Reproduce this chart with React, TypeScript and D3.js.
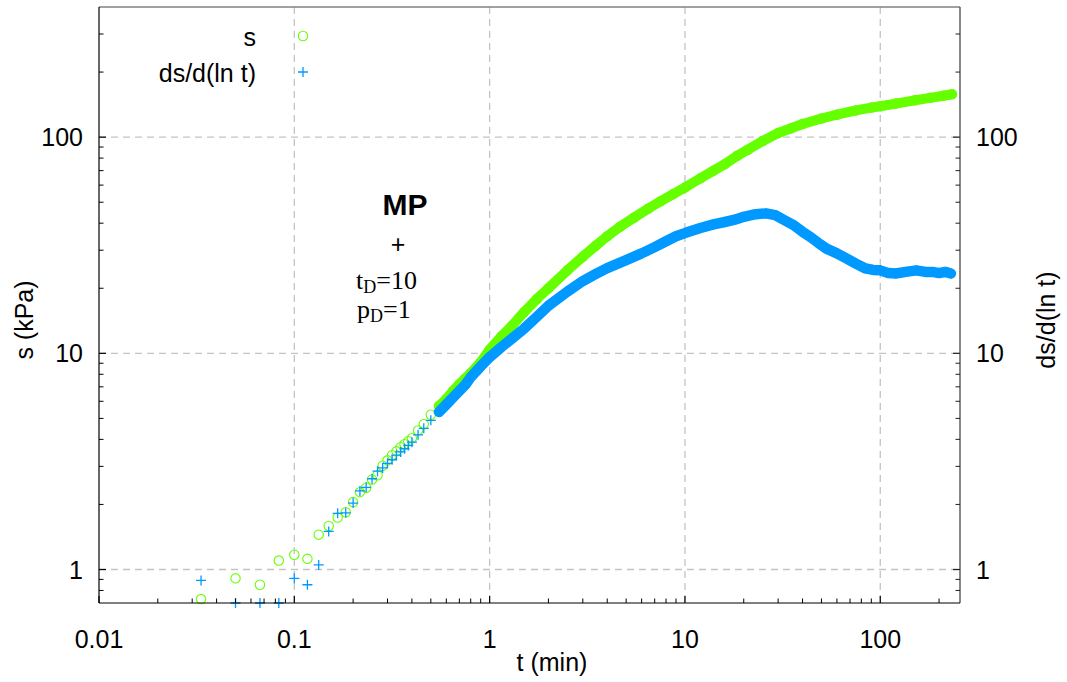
import React from "react";
import * as d3 from "d3";

// ---- data (t in minutes) ----
const sT = [0.0333, 0.05, 0.0667, 0.0833, 0.1, 0.1167, 0.1333, 0.15, 0.1667, 0.1833, 0.2, 0.2167, 0.2333, 0.25, 0.2667, 0.2833, 0.3, 0.3167, 0.3333, 0.35, 0.3667, 0.3833, 0.4,
  0.43, 0.46, 0.5, 0.55, 0.6, 0.65, 0.7, 0.75, 0.8, 0.9, 1.0, 1.15, 1.3, 1.5, 1.75, 2.0, 2.5, 3.0, 3.5, 4.0, 4.65, 5.5, 6.5, 7.5, 8.7, 10, 12, 14, 16, 18.5, 21, 25, 30, 35, 40, 50, 60, 75, 90, 100, 120, 150, 180, 210, 233];
const sV = [0.73, 0.91, 0.85, 1.10, 1.17, 1.12, 1.45, 1.59, 1.74, 1.84, 2.05, 2.28, 2.39, 2.61, 2.73, 3.02, 3.2, 3.38, 3.52, 3.68, 3.8, 3.92, 4.05,
  4.4, 4.7, 5.2, 5.7, 6.15, 6.7, 7.2, 7.65, 8.1, 9.1, 10.4, 12.0, 13.4, 15.5, 17.9, 20.0, 24.2, 28.0, 31.5, 34.8, 38.5, 42.5, 46.8, 50.5, 54.5, 58.5, 64.5, 70, 75, 82, 87.5, 96, 104.5, 110, 115, 122, 127, 133, 137, 139, 143, 148, 152, 155.5, 158];

const dT = [0.0333, 0.05, 0.0667, 0.0833, 0.1, 0.1167, 0.1333, 0.15, 0.1667, 0.1833, 0.2, 0.2167, 0.2333, 0.25, 0.2667, 0.2833, 0.3, 0.3167, 0.3333, 0.35, 0.3667, 0.3833, 0.4,
  0.43, 0.46, 0.5, 0.55, 0.6, 0.65, 0.7, 0.75, 0.8, 0.9, 1.0, 1.15, 1.3, 1.5, 1.75, 2.0, 2.5, 3.0, 3.5, 4.0, 5.0, 6.0, 7.0, 8.0, 9.0, 10, 12, 14, 16, 18, 20, 23, 26, 29, 32, 36, 40, 44, 48, 53, 60, 67, 75, 84, 92, 100, 110, 120, 135, 153, 170, 185, 200, 215, 230];
const dV = [0.89, 0.7, 0.7, 0.7, 0.91, 0.85, 1.05, 1.50, 1.82, 1.83, 2.03, 2.31, 2.40, 2.63, 2.85, 2.95, 3.1, 3.22, 3.38, 3.5, 3.62, 3.75, 3.88,
  4.2, 4.5, 4.9, 5.35, 5.8, 6.25, 6.7, 7.15, 7.75, 8.7, 9.6, 10.7, 11.7, 13.0, 14.8, 16.6, 19.3, 21.6, 23.3, 24.8, 27.0, 29.0, 31.0, 33.0, 34.8, 36.0, 38.0, 39.5, 40.5, 41.5, 42.8, 44.0, 44.4, 43.6, 41.5, 39.2, 36.5, 34.5, 32.5, 30.5, 29.0, 27.5, 26.0, 24.7, 24.3, 24.2, 23.5, 23.4, 23.8, 24.2, 23.8, 23.8, 23.5, 23.8, 23.4];

const xMajor = [0.01, 0.1, 1, 10, 100];
const xMajorLabels = ["0.01", "0.1", "1", "10", "100"];
const yMajor = [1, 10, 100];
const yMajorLabels = ["1", "10", "100"];
const denseFrom = 0.55;

const GREEN = "#66ff00";
const BLUE = "#0099ff";
const FONT = "'Liberation Sans', Arial, Helvetica, sans-serif";
const SERIF = "'Liberation Serif', 'Times New Roman', serif";

export default function App() {
  const W = 1067, H = 682;
  const L = 99, R = 960, T = 7, B = 603;
  const x = d3.scaleLog().domain([0.01, 256]).range([L, R]);
  const y = d3.scaleLog().domain([0.7, 400]).range([B, T]);

  const xMinor: number[] = [];
  for (const dec of [0.01, 0.1, 1, 10, 100]) for (let k = 2; k <= 9; k++) { const v = dec * k; if (v <= 256) xMinor.push(v); }
  const yMinor: number[] = [0.8, 0.9];
  for (const dec of [1, 10, 100]) for (let k = 2; k <= 9; k++) { const v = dec * k; if (v < 400) yMinor.push(v); }

  const sPts = sT.map((t, i) => [t, sV[i]] as [number, number]);
  const dPts = dT.map((t, i) => [t, dV[i]] as [number, number]);
  const line = d3.line<[number, number]>().x(d => x(d[0])).y(d => y(d[1]));

  const dash = "7,5";
  const grid = "#c4c4c4";
  const R_C = 4.7;
  const ARM = 5;

  return (
    <svg width={W} height={H} style={{ position: "absolute", left: 0, top: 0, background: "#fff" }} fontFamily={FONT}>
      <rect x={0} y={0} width={W} height={H} fill="#fff" />
      {/* grid */}
      {xMajor.slice(1).map(v => (
        <line key={"gx" + v} x1={x(v)} x2={x(v)} y1={T} y2={B} stroke={grid} strokeWidth={1.3} strokeDasharray={dash} />
      ))}
      {yMajor.map(v => (
        <line key={"gy" + v} x1={L} x2={R} y1={y(v)} y2={y(v)} stroke={grid} strokeWidth={1.3} strokeDasharray={dash} />
      ))}

      {/* s series */}
      <path d={line(sPts.filter(p => p[0] >= denseFrom)) || ""} fill="none" stroke={GREEN} strokeWidth={10} strokeLinecap="round" strokeLinejoin="round" />
      {sPts.map((p, i) => (
        <circle key={"s" + i} cx={x(p[0])} cy={y(p[1])} r={R_C} fill="none" stroke={GREEN} strokeWidth={1.1} />
      ))}
      {/* ds/dlnt series */}
      <path d={line(dPts.filter(p => p[0] >= denseFrom)) || ""} fill="none" stroke={BLUE} strokeWidth={10.5} strokeLinecap="round" strokeLinejoin="round" />
      {dPts.map((p, i) => {
        const cx = x(p[0]), cy = y(p[1]);
        return (
          <path key={"d" + i} d={`M${cx - ARM},${cy}H${cx + ARM}M${cx},${cy - ARM}V${cy + ARM}`} stroke={BLUE} strokeWidth={1.3} fill="none" />
        );
      })}

      {/* frame */}
      <line x1={L} x2={R} y1={T} y2={T} stroke="#808080" strokeWidth={1.6} />
      <line x1={R} x2={R} y1={T} y2={B} stroke="#555" strokeWidth={1.4} />
      <line x1={L} x2={L} y1={T} y2={B} stroke="#000" strokeWidth={1.2} />
      <line x1={L} x2={R} y1={B} y2={B} stroke="#000" strokeWidth={1.2} />

      {/* ticks */}
      {xMajor.map(v => <line key={"xt" + v} x1={x(v)} x2={x(v)} y1={B} y2={B - 7} stroke="#000" strokeWidth={1.2} />)}
      {xMinor.map(v => <line key={"xm" + v} x1={x(v)} x2={x(v)} y1={B} y2={B - 4.5} stroke="#000" strokeWidth={1} />)}
      {yMajor.map(v => <line key={"yt" + v} x1={L} x2={L + 7} y1={y(v)} y2={y(v)} stroke="#000" strokeWidth={1.2} />)}
      {yMinor.map(v => <line key={"ym" + v} x1={L} x2={L + 4.5} y1={y(v)} y2={y(v)} stroke="#000" strokeWidth={1} />)}
      {yMajor.map(v => <line key={"yrt" + v} x1={R} x2={R - 7} y1={y(v)} y2={y(v)} stroke="#222" strokeWidth={1.2} />)}
      {yMinor.map(v => <line key={"yrm" + v} x1={R} x2={R - 4.5} y1={y(v)} y2={y(v)} stroke="#222" strokeWidth={1} />)}

      {/* tick labels */}
      {xMajor.map((v, i) => (
        <text key={"xl" + v} x={x(v)} y={648} fontSize={25} textAnchor="middle" fill="#000">{xMajorLabels[i]}</text>
      ))}
      {yMajor.map((v, i) => (
        <text key={"yl" + v} x={83} y={y(v) + 9} fontSize={25} textAnchor="end" fill="#000">{yMajorLabels[i]}</text>
      ))}
      {yMajor.map((v, i) => (
        <text key={"yrl" + v} x={976} y={y(v) + 9} fontSize={25} textAnchor="start" fill="#000">{yMajorLabels[i]}</text>
      ))}

      {/* axis labels */}
      <text x={552} y={671} fontSize={25} textAnchor="middle">t (min)</text>
      <text transform="translate(33,320) rotate(-90)" fontSize={25} textAnchor="middle">s (kPa)</text>
      <text transform="translate(1055,320) rotate(-90)" fontSize={25} textAnchor="middle">ds/d(ln t)</text>

      {/* legend */}
      <text x={256} y={46} fontSize={25} textAnchor="end">s</text>
      <circle cx={303} cy={36} r={R_C} fill="none" stroke={GREEN} strokeWidth={1.1} />
      <text x={256} y={82} fontSize={25} textAnchor="end">ds/d(ln t)</text>
      <path d={`M${303 - ARM},72H${303 + ARM}M303,${72 - ARM}V${72 + ARM}`} stroke={BLUE} strokeWidth={1.3} />

      {/* annotation */}
      <text x={405} y={215} fontSize={30} fontWeight="bold" textAnchor="middle">MP</text>
      <text x={398} y={253} fontSize={25} textAnchor="middle">+</text>
      <text x={356} y={289} fontSize={26} fontFamily={SERIF}>t<tspan fontSize={18} dy={4}>D</tspan><tspan dy={-4}>=10</tspan></text>
      <text x={357} y={318} fontSize={26} fontFamily={SERIF}>p<tspan fontSize={18} dy={4}>D</tspan><tspan dy={-4}>=1</tspan></text>
    </svg>
  );
}
